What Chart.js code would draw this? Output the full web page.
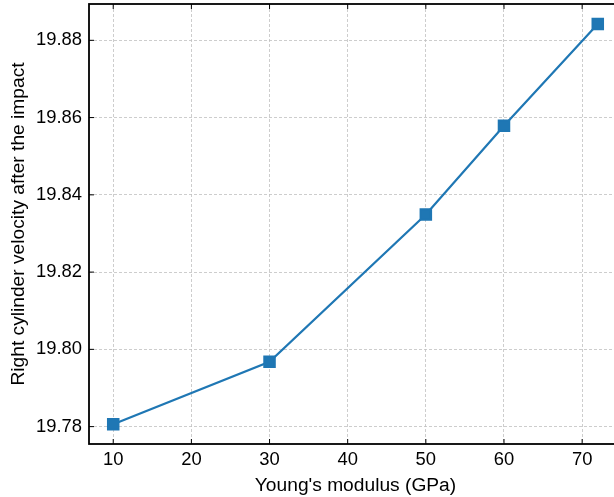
<!DOCTYPE html>
<html>
<head>
<meta charset="utf-8">
<script src="https://cdn.jsdelivr.net/npm/chart.js@4/dist/chart.umd.min.js"></script>
<style>
  html, body { margin: 0; padding: 0; overflow: hidden; background: #fff; }
  canvas { display: block; }
</style>
</head>
<body>
<canvas id="canvas-velocity" width="622" height="497"></canvas>
<script>
const youngModulus = [10, 30, 50, 60, 72];
const rightVelocity = [19.7806, 19.7968, 19.8349, 19.8579, 19.8842];
const xTicks = [10, 20, 30, 40, 50, 60, 70];
const yTicks = [19.78, 19.80, 19.82, 19.84, 19.86, 19.88];

const chartVelocity = document.getElementById('canvas-velocity');

// frame + inward ticks like the matplotlib original
const frameTicks = {
  id: 'frameTicks',
  afterDraw(chart) {
    const ctx = chart.ctx;
    const a = chart.chartArea;
    const xs = chart.scales.x;
    const ys = chart.scales.y;
    ctx.save();
    ctx.strokeStyle = '#000';
    ctx.lineWidth = 1;
    ctx.beginPath();
    xTicks.forEach(v => {
      const px = xs.getPixelForValue(v);
      ctx.moveTo(px, a.bottom); ctx.lineTo(px, a.bottom - 5);
      ctx.moveTo(px, a.top); ctx.lineTo(px, a.top + 5);
    });
    yTicks.forEach(v => {
      const py = ys.getPixelForValue(v);
      ctx.moveTo(a.left, py); ctx.lineTo(a.left + 5, py);
      ctx.moveTo(a.right, py); ctx.lineTo(a.right - 5, py);
    });
    ctx.stroke();
    ctx.lineWidth = 1.8;
    ctx.strokeRect(a.left, a.top, a.right - a.left, a.bottom - a.top);
    ctx.restore();
  }
};

new Chart(chartVelocity, {
  type: 'line',
  data: {
    datasets: [{
      data: youngModulus.map((x, i) => ({x: x, y: rightVelocity[i]})),
      borderColor: '#1f77b4',
      backgroundColor: '#1f77b4',
      borderWidth: 2.2,
      pointStyle: 'rect',
      pointRadius: 7.3,
      pointHoverRadius: 7.3,
      tension: 0,
    }]
  },
  options: {
    responsive: false,
    animation: false,
    layout: { autoPadding: false, padding: { top: 4, right: 0, left: 0, bottom: 0 } },
    plugins: {
      legend: { display: false },
      tooltip: { enabled: false },
    },
    scales: {
      x: {
        type: 'linear',
        min: 6.9,
        max: 75.1,
        afterBuildTicks: (s) => { s.ticks = xTicks.map(v => ({value: v})); },
        afterFit: (s) => { s.height = 53; s.paddingLeft = 0; s.paddingRight = 0; },
        grid: { color: '#c0c0c0', lineWidth: 0.8, drawTicks: false },
        border: { display: false, dash: [3, 2] },
        ticks: {
          color: '#000',
          padding: 5,
          font: { family: 'Liberation Sans', size: 18.4 },
          maxRotation: 0,
        },
        title: {
          display: true,
          text: "Young's modulus (GPa)",
          color: '#000',
          padding: { top: 0, bottom: 0 },
          font: { family: 'Liberation Sans', size: 19.2 },
        }
      },
      y: {
        type: 'linear',
        min: 19.7755,
        max: 19.8894,
        afterBuildTicks: (s) => { s.ticks = yTicks.map(v => ({value: v})); },
        afterFit: (s) => { s.width = 89; s.paddingTop = 0; s.paddingBottom = 0; },
        grid: { color: '#c0c0c0', lineWidth: 0.8, drawTicks: false },
        border: { display: false, dash: [3, 2] },
        ticks: {
          color: '#000',
          padding: 7,
          font: { family: 'Liberation Sans', size: 18.4 },
          callback: (v) => v.toFixed(2),
        },
        title: {
          display: true,
          text: 'Right cylinder velocity after the impact',
          color: '#000',
          padding: { top: 7, bottom: 0 },
          font: { family: 'Liberation Sans', size: 19.2 },
        }
      }
    }
  },
  plugins: [frameTicks],
});
</script>
</body>
</html>
